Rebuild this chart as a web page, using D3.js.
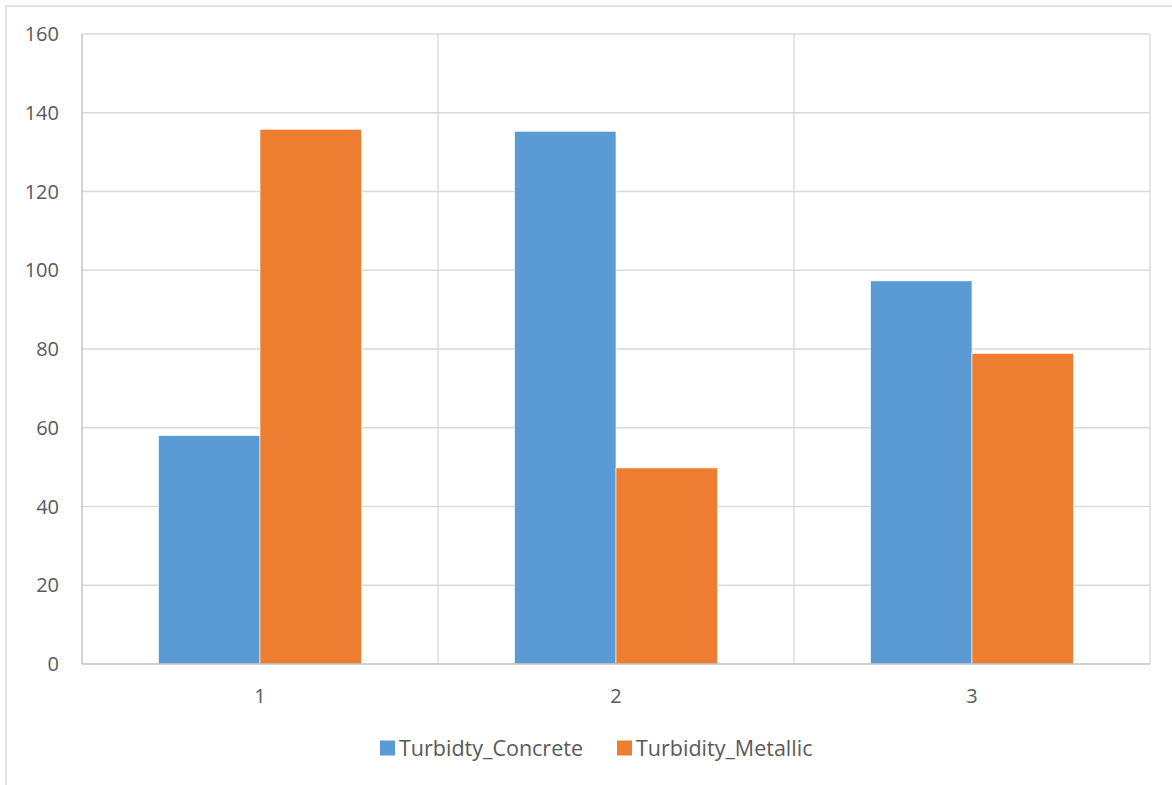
<!DOCTYPE html>
<html><head><meta charset="utf-8">
<script src="https://cdn.jsdelivr.net/npm/d3@7"></script>
<style>body{margin:0;background:#fff}svg{display:block}</style>
</head><body>
<svg id="c" width="1172" height="785"></svg>
<script>
const categories = ["1", "2", "3"];
const seriesNames = ["Turbidty_Concrete", "Turbidity_Metallic"];
const concrete = [58, 135.3, 97.3];
const metallic = [135.8, 49.8, 78.9];
const yTicks = [0, 20, 40, 60, 80, 100, 120, 140, 160];
const colors = ["#5b9bd5", "#ed7d31"];

const svg = d3.select("#c");
const font = "'Open Sans', sans-serif";
const M = {l: 82, t: 34, r: 1150, b: 664};

// outer frame (partially visible)
svg.append("rect").attr("x", 6).attr("y", 6).attr("width", 1180).attr("height", 800)
  .attr("fill", "none").attr("stroke", "#d9d9d9").attr("stroke-width", 1.5);

const x0 = d3.scaleBand().domain(categories).range([M.l, M.r]).padding(0);
const x1 = d3.scaleBand().domain(seriesNames).range([0, x0.bandwidth()]).paddingInner(0).paddingOuter(0.754);
const y = d3.scaleLinear().domain([0, 160]).range([M.b, M.t]);

// horizontal gridlines
svg.append("g").selectAll("line").data(yTicks.filter(d => d > 0)).join("line")
  .attr("x1", M.l).attr("x2", M.r).attr("y1", d => y(d)).attr("y2", d => y(d))
  .attr("stroke", "#d9d9d9").attr("stroke-width", 1.3);
// vertical gridlines at category boundaries
const bounds = categories.map(c => x0(c) + x0.bandwidth()).concat([x0(categories[0])]);
svg.append("g").selectAll("line").data(bounds).join("line")
  .attr("x1", d => d).attr("x2", d => d).attr("y1", M.t).attr("y2", M.b)
  .attr("stroke", d => d === M.l ? "#bfbfbf" : "#d9d9d9").attr("stroke-width", 1.3);

// bars
const data = categories.map((c, i) => ({c, vals: [concrete[i], metallic[i]]}));
const g = svg.append("g").selectAll("g").data(data).join("g")
  .attr("transform", d => `translate(${x0(d.c)},0)`);
g.selectAll("rect").data(d => d.vals.map((v, j) => ({s: seriesNames[j], v, j}))).join("rect")
  .attr("x", d => x1(d.s)).attr("width", x1.bandwidth())
  .attr("y", d => y(d.v)).attr("height", d => y(0) - y(d.v))
  .attr("fill", d => colors[d.j]).attr("stroke", "#fff").attr("stroke-width", 0.6);

// bottom axis line
svg.append("line").attr("x1", M.l).attr("x2", M.r).attr("y1", y(0)).attr("y2", y(0))
  .attr("stroke", "#bfbfbf").attr("stroke-width", 1.5);

// y tick labels
svg.append("g").selectAll("text").data(yTicks).join("text")
  .attr("x", 59).attr("y", d => y(d)).attr("dy", "0.35em").attr("text-anchor", "end")
  .attr("font-family", font).attr("font-size", 20).attr("fill", "#595959").text(d => d);

// x tick labels
svg.append("g").selectAll("text").data(categories).join("text")
  .attr("x", d => x0(d) + x0.bandwidth() / 2).attr("y", 696).attr("dy", "0.35em")
  .attr("text-anchor", "middle").attr("font-family", font).attr("font-size", 20)
  .attr("fill", "#595959").text(d => d);

// legend
const legX = [380, 617];
const lg = svg.append("g").selectAll("g").data(seriesNames).join("g")
  .attr("transform", (d, i) => `translate(${legX[i]},748)`);
lg.append("rect").attr("x", 0).attr("y", -7.5).attr("width", 15).attr("height", 15)
  .attr("fill", (d, i) => colors[i]);
lg.append("text").attr("x", 19).attr("y", 0).attr("dy", "0.35em")
  .attr("font-family", font).attr("font-size", 21.5).attr("fill", "#595959").text(d => d);
</script>
</body></html>
